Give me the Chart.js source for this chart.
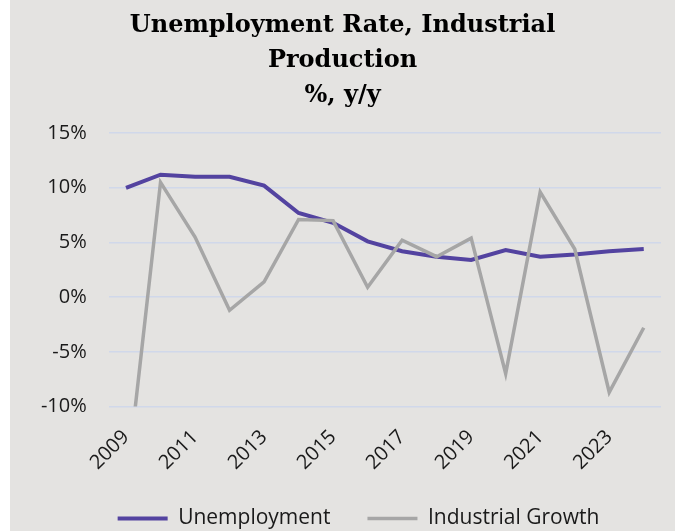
<!DOCTYPE html>
<html>
<head>
<meta charset="utf-8">
<script src="https://cdn.jsdelivr.net/npm/chart.js@4"></script>
<style>
    html, body { margin: 0; padding: 0; background: #ffffff; }
    #wrap {
        position: absolute;
        left: 10px;
        top: 0;
        width: 665px;
        height: 531px;
        background: #e4e3e1;
    }
</style>
</head>
<body>
<div id="wrap">
    <canvas id="unemployment-industrial" width="665" height="531"></canvas>
</div>
<script>
// data
const years = ["2009", "2010", "2011", "2012", "2013", "2014", "2015", "2016",
    "2017", "2018", "2019", "2020", "2021", "2022", "2023", "2024"];
const unemployment = [10.0, 11.2, 11.0, 11.0, 10.2, 7.7, 6.8, 5.1,
    4.2, 3.7, 3.4, 4.3, 3.7, 3.9, 4.2, 4.4];
const industrialGrowth = [-17.6, 10.5, 5.5, -1.2, 1.4, 7.1, 7.0, 0.9,
    5.2, 3.7, 5.4, -7.0, 9.6, 4.4, -8.7, -2.8];
const yTicks = [-10, -5, 0, 5, 10, 15];
const titleLines = ["Unemployment Rate, Industrial", "Production", "%, y/y"];

// geser legend sedikit ke kanan (di gambar asli legend tidak tepat di tengah)
const legendShift = {
    id: "legendShift",
    afterLayout(chart) {
        if (!chart.legend) return;
        chart.legend.left += 16;
        chart.legend.right += 16;
    },
};

function initChart() {
    const canvas = document.getElementById("unemployment-industrial");
    if (!canvas) return;

    const config = {
        type: "line",
        data: {
            labels: years,
            datasets: [
                {
                    label: "Unemployment",
                    data: unemployment,
                    borderColor: "#5343a0",
                    backgroundColor: "#5343a0",
                    borderWidth: 4,
                    pointRadius: 0,
                    tension: 0,
                    order: 1,
                },
                {
                    label: "Industrial Growth",
                    data: industrialGrowth,
                    borderColor: "#a6a6a6",
                    backgroundColor: "#a6a6a6",
                    borderWidth: 3.5,
                    pointRadius: 0,
                    tension: 0,
                    order: 0,
                },
            ],
        },
        plugins: [legendShift],
        options: {
            responsive: false,
            animation: false,
            layout: {
                // legend punya padding besar, jadi bawahnya sedikit keluar kanvas
                padding: { left: 14, right: 14, top: 0, bottom: -8 },
            },
            scales: {
                x: {
                    offset: true,
                    grid: { display: false },
                    border: { display: false },
                    afterFit: function (scale) {
                        scale.height = 64.5;
                    },
                    ticks: {
                        autoSkip: false,
                        minRotation: 45,
                        maxRotation: 45,
                        padding: 11,
                        color: "#1a1a1a",
                        font: { family: "'Open Sans'", size: 20 },
                        callback: function (value, index) {
                            return index % 2 === 0 ? years[index] : "";
                        },
                    },
                },
                y: {
                    min: yTicks[0],
                    max: yTicks[yTicks.length - 1],
                    afterBuildTicks: function (scale) {
                        scale.ticks = yTicks.map((v) => ({ value: v }));
                    },
                    afterFit: function (scale) {
                        scale.width = 84.75;
                    },
                    grid: {
                        color: "#d0d8ea",
                        lineWidth: 1.5,
                        drawTicks: false,
                    },
                    border: { display: false },
                    ticks: {
                        padding: 22,
                        color: "#1a1a1a",
                        font: { family: "'Open Sans'", size: 20 },
                        callback: function (value) {
                            return `${value}%`;
                        },
                    },
                },
            },
            plugins: {
                title: {
                    display: true,
                    text: titleLines,
                    color: "#000000",
                    font: { family: "'DejaVu Serif'", size: 24, weight: "bold", lineHeight: 1.46 },
                    padding: { top: 8, bottom: 20 },
                },
                legend: {
                    position: "bottom",
                    labels: {
                        usePointStyle: true,
                        pointStyle: "line",
                        pointStyleWidth: 50,
                        padding: 37,
                        color: "#1a1a1a",
                        font: { family: "'Open Sans'", size: 21 },
                        sort: (a, b) => a.datasetIndex - b.datasetIndex,
                    },
                },
                tooltip: { enabled: false },
            },
        },
    };

    canvas.chart = new Chart(canvas, config);
}

document.addEventListener("DOMContentLoaded", initChart);
</script>
</body>
</html>
